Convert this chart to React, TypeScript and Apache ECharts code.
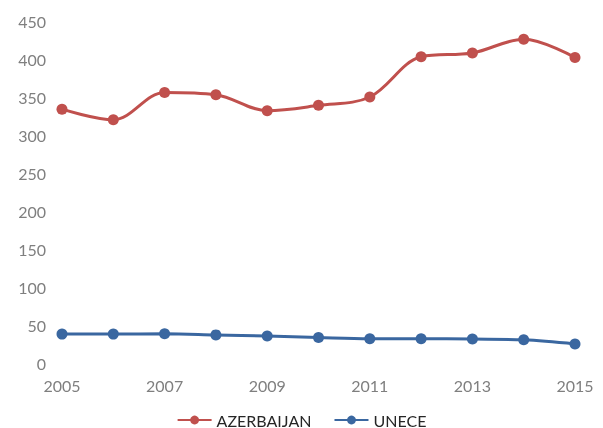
import React, { useEffect, useRef } from "react";
import * as echarts from "echarts";

const years = ["2005", "2006", "2007", "2008", "2009", "2010", "2011", "2012", "2013", "2014", "2015"];
const azerbaijan = [334, 320, 356, 353, 332, 339, 350, 403, 408, 426, 402];
const unece = [38, 38, 38.5, 37, 35.5, 33.5, 32, 32, 31.5, 30.5, 25];

export default function App() {
  const ref = useRef<HTMLDivElement>(null);
  useEffect(() => {
    const chart = echarts.init(ref.current!, null, { renderer: "svg" });
    chart.setOption({
      animation: false,
      textStyle: { fontFamily: "Lato" },
      grid: { left: 62, right: 28, top: 21, bottom: 65 },
      legend: {
        bottom: 0,
        left: "center",
        padding: [0, 5, 0, 5],
        itemWidth: 34,
        itemHeight: 11,
        itemGap: 22,
        textStyle: { fontSize: 16, color: "#262626", fontFamily: "Lato" },
        data: ["AZERBAIJAN", "UNECE"],
      },
      xAxis: {
        type: "category",
        data: years,
        boundaryGap: false,
        axisLine: { show: false },
        axisTick: { show: false },
        axisLabel: { interval: 1, fontSize: 16, color: "#7f7f7f", margin: 14 },
      },
      yAxis: {
        type: "value",
        min: 0,
        max: 450,
        interval: 50,
        splitLine: { show: false },
        axisLine: { show: false },
        axisTick: { show: false },
        axisLabel: { fontSize: 16, color: "#7f7f7f", margin: 16 },
      },
      series: [
        {
          name: "AZERBAIJAN",
          type: "line",
          data: azerbaijan,
          smooth: 0.35,
          symbol: "circle",
          symbolSize: 11,
          lineStyle: { width: 3, color: "#C0504D" },
          itemStyle: { color: "#C0504D" },
        },
        {
          name: "UNECE",
          type: "line",
          data: unece,
          smooth: 0.35,
          symbol: "circle",
          symbolSize: 11,
          lineStyle: { width: 3, color: "#3A67A0" },
          itemStyle: { color: "#3A67A0" },
        },
      ],
    });
    return () => chart.dispose();
  }, []);
  return <div ref={ref} style={{ position: "fixed", left: 0, top: 0, width: 603, height: 428 }} />;
}
